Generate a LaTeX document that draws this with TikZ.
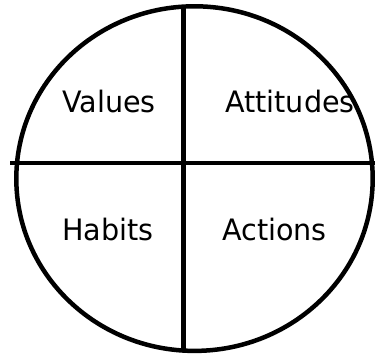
\documentclass[tikz,border=0pt]{standalone}
\usepackage{fontspec}
\setmainfont{DejaVu Sans}[FakeStretch=0.97]
\begin{document}
\begin{tikzpicture}[x=1pt,y=1pt,
  rim/.style={line width=4.5pt},
  divider/.style={line width=4.5pt},
  label/.style={anchor=base west,inner sep=0pt,font=\fontsize{29.5}{32}\selectfont}]
\useasboundingbox (0,0) rectangle (375,356);
\coordinate (c) at (194.5,177.4);
\draw[rim] (c) ellipse [x radius=178.2, y radius=172.3];
\coordinate (vtop) at (183.5,349.5);
\coordinate (vbot) at (183.5,5.3);
\coordinate (hl) at (10,193);
\coordinate (hr) at (375,193);
\draw[divider] (vtop) -- (vbot);
\draw[divider] (hl) -- (hr);
\node[label] (values) at (62,243) {Values};
\node[label] (attitudes) at (225,243) {Attitudes};
\node[label] (habits) at (62,115) {Habits};
\node[label] (actions) at (222,115) {Actions};
\end{tikzpicture}
\end{document}
